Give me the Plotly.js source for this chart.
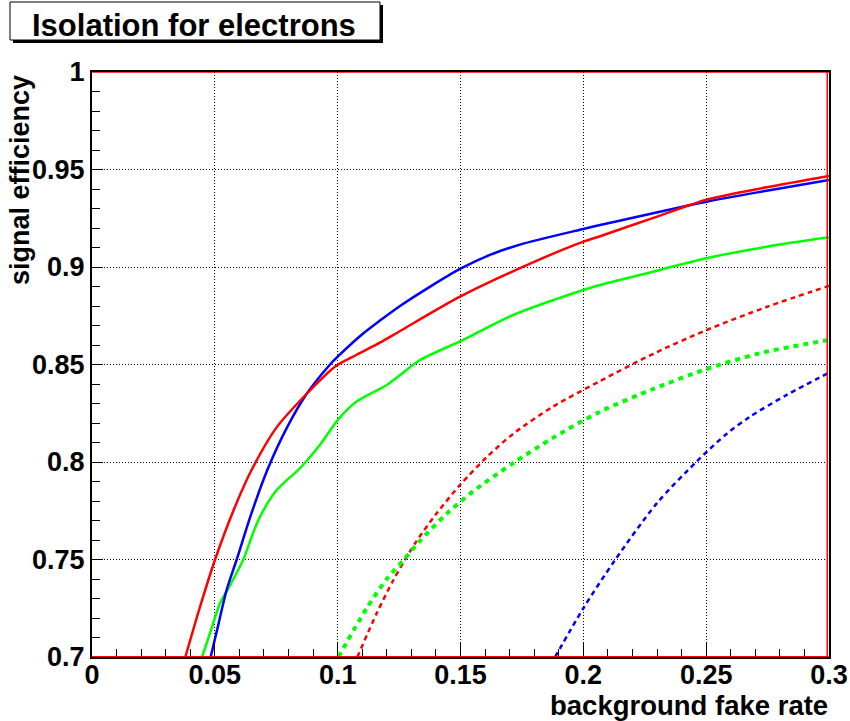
<!DOCTYPE html>
<html>
<head>
<meta charset="utf-8">
<script src="https://cdn.plot.ly/plotly-3.0.1.min.js"></script>
<style>html,body{margin:0;padding:0;background:#fff;}</style>
</head>
<body>
<div id="chart" style="width:850px;height:721px;"></div>
<script>
// ---- data ----
var redSolidX = [0.038, 0.0438, 0.0501, 0.0578, 0.065, 0.075, 0.0874, 0.099, 0.1077, 0.1172, 0.1254, 0.1498, 0.1756, 0.2, 0.2068, 0.2285, 0.2502, 0.2746, 0.3];
var redSolidY = [0.700, 0.725, 0.750, 0.7758, 0.796, 0.8175, 0.835, 0.849, 0.855, 0.8612, 0.8672, 0.8848, 0.9002, 0.913, 0.9158, 0.9252, 0.9345, 0.9409, 0.9467];

var blueSolidX = [0.0483, 0.0515, 0.0548, 0.0589, 0.065, 0.0714, 0.0795, 0.0874, 0.0969, 0.1, 0.11, 0.1172, 0.1254, 0.1375, 0.1498, 0.162, 0.1742, 0.2, 0.2068, 0.2502, 0.2746, 0.3];
var blueSolidY = [0.700, 0.717, 0.7344, 0.750, 0.774, 0.796, 0.818, 0.835, 0.850, 0.854, 0.8655, 0.8725, 0.880, 0.8898, 0.899, 0.9062, 0.9115, 0.9195, 0.9215, 0.9335, 0.9391, 0.9446];

var greenSolidX = [0.0448, 0.0485, 0.0521, 0.0555, 0.0616, 0.065, 0.0684, 0.0752, 0.084, 0.087, 0.0935, 0.1, 0.1077, 0.12, 0.1254, 0.1335, 0.1511, 0.1715, 0.2, 0.2068, 0.2312, 0.25, 0.2746, 0.3];
var greenSolidY = [0.700, 0.714, 0.7275, 0.7352, 0.750, 0.7617, 0.772, 0.7856, 0.796, 0.800, 0.810, 0.8215, 0.831, 0.8395, 0.8446, 0.8523, 0.8626, 0.8754, 0.8882, 0.8908, 0.8985, 0.9045, 0.9104, 0.9152];

var redDashX = [0.108, 0.1159, 0.1227, 0.1315, 0.1403, 0.1498, 0.1607, 0.1715, 0.1878, 0.2068, 0.2285, 0.2502, 0.2746, 0.3];
var redDashY = [0.700, 0.7224, 0.7395, 0.7583, 0.7737, 0.7882, 0.8025, 0.8145, 0.8285, 0.8415, 0.8555, 0.8677, 0.8795, 0.8903];

var greenDashX = [0.1003, 0.1118, 0.12, 0.127, 0.1335, 0.1444, 0.1552, 0.1715, 0.1878, 0.2068, 0.2285, 0.2502, 0.2719, 0.3];
var greenDashY = [0.700, 0.725, 0.740, 0.750, 0.7595, 0.7735, 0.785, 0.7995, 0.8125, 0.8258, 0.8375, 0.8477, 0.8558, 0.8626];

var blueDashX = [0.1885, 0.2, 0.2129, 0.2299, 0.2461, 0.2583, 0.2678, 0.2828, 0.3];
var blueDashY = [0.700, 0.725, 0.7497, 0.7788, 0.8002, 0.8144, 0.8232, 0.8344, 0.8458];

var xTickVals = [0, 0.05, 0.1, 0.15, 0.2, 0.25, 0.3];
var xTickText = ['0', '0.05', '0.1', '0.15', '0.2', '0.25', '0.3'];
var yTickVals = [0.7, 0.75, 0.8, 0.85, 0.9, 0.95, 1.0];
var yTickText = ['0.7', '0.75', '0.8', '0.85', '0.9', '0.95', '1'];

var titleText = 'Isolation for electrons';
var xTitle = 'background fake rate';
var yTitle = 'signal efficiency';

// ---- layout helpers (pixel -> paper) ----
var W = 850, H = 721, ML = 92, MR = 21, MT = 72, MB = 64;
var PW = W - ML - MR, PH = H - MT - MB;
function px(x) { return (x - ML) / PW; }
function py(y) { return (H - MB - y) / PH; }

var RED = '#ff0000', BLUE = '#0000ff', GREEN = '#00ff00';
var fnt = {family: 'Liberation Sans, Arial, Helvetica, sans-serif', size: 27, color: '#000', weight: 'bold'};

function tr(x, y, color, width, dash) {
  return {x: x, y: y, type: 'scatter', mode: 'lines', hoverinfo: 'skip',
          line: {color: color, width: width, dash: dash, shape: 'spline', smoothing: 0.8}};
}

var data = [
  tr(redDashX, redDashY, RED, 2.5, '5px,4px'),
  tr(greenDashX, greenDashY, GREEN, 4, '5px,5px'),
  tr(blueDashX, blueDashY, BLUE, 2.5, '5px,4px'),
  tr(greenSolidX, greenSolidY, GREEN, 2.5, 'solid'),
  tr(blueSolidX, blueSolidY, BLUE, 2.5, 'solid'),
  tr(redSolidX, redSolidY, RED, 2.5, 'solid')
];

var axisCommon = {
  showline: true, mirror: true, linecolor: '#000', linewidth: 2,
  showgrid: true, gridcolor: '#000', gridwidth: 1, griddash: '1px,2px',
  zeroline: false, ticks: 'inside', tickcolor: '#000', tickwidth: 1,
  tickfont: fnt, tickmode: 'array', fixedrange: true
};

var layout = {
  width: W, height: H,
  margin: {l: ML, r: MR, t: MT, b: MB, pad: 0},
  paper_bgcolor: '#fff', plot_bgcolor: '#fff',
  showlegend: false,
  xaxis: Object.assign({}, axisCommon, {
    range: [0, 0.3], tickvals: xTickVals, ticktext: xTickText, ticklen: 14,
    ticklabelstandoff: -7,
    minor: {dtick: 0.01, tick0: 0, ticks: 'inside', ticklen: 8, tickcolor: '#000', tickwidth: 1, showgrid: false}
  }),
  yaxis: Object.assign({}, axisCommon, {
    range: [0.7, 1.0], tickvals: yTickVals, ticktext: yTickText, ticklen: 11,
    ticklabelstandoff: 0,
    minor: {dtick: 0.01, tick0: 0.7, ticks: 'inside', ticklen: 8, tickcolor: '#000', tickwidth: 1, showgrid: false}
  }),
  shapes: [
    // red frame lines drawn by the clipped red curve
    {type: 'line', xref: 'x', yref: 'y', x0: 0, x1: 0.3, y0: 0.7, y1: 0.7, line: {color: RED, width: 2}, layer: 'above'},
    {type: 'line', xref: 'x', yref: 'y', x0: 0, x1: 0.3, y0: 1.0, y1: 1.0, line: {color: RED, width: 1.5}, layer: 'above'},
    {type: 'line', xref: 'x', yref: 'y', x0: 0.2993, x1: 0.2993, y0: 0.7, y1: 1.0, line: {color: RED, width: 1.5}, layer: 'above'},
    // title box shadow and box
    {type: 'rect', xref: 'paper', yref: 'paper', x0: px(13), x1: px(383), y0: py(43), y1: py(5), fillcolor: '#000', line: {width: 0}, layer: 'above'},
    {type: 'rect', xref: 'paper', yref: 'paper', x0: px(10), x1: px(380), y0: py(40), y1: py(2), fillcolor: '#fff', line: {color: '#000', width: 1}, layer: 'above'}
  ],
  annotations: [
    {text: titleText, xref: 'paper', yref: 'paper', x: px(194), y: py(25), xanchor: 'center', yanchor: 'middle', showarrow: false,
     font: {family: fnt.family, size: 31, color: '#000', weight: 'bold'}},
    {text: xTitle, xref: 'paper', yref: 'paper', x: px(830), y: py(705), xanchor: 'right', yanchor: 'middle', showarrow: false,
     font: {family: fnt.family, size: 27.5, color: '#000', weight: 'bold'}},
    {text: yTitle, xref: 'paper', yref: 'paper', x: px(20), y: py(73), xanchor: 'center', yanchor: 'top', textangle: -90, showarrow: false, font: fnt}
  ]
};

Plotly.newPlot('chart', data, layout, {displayModeBar: false, staticPlot: true});
</script>
</body>
</html>
